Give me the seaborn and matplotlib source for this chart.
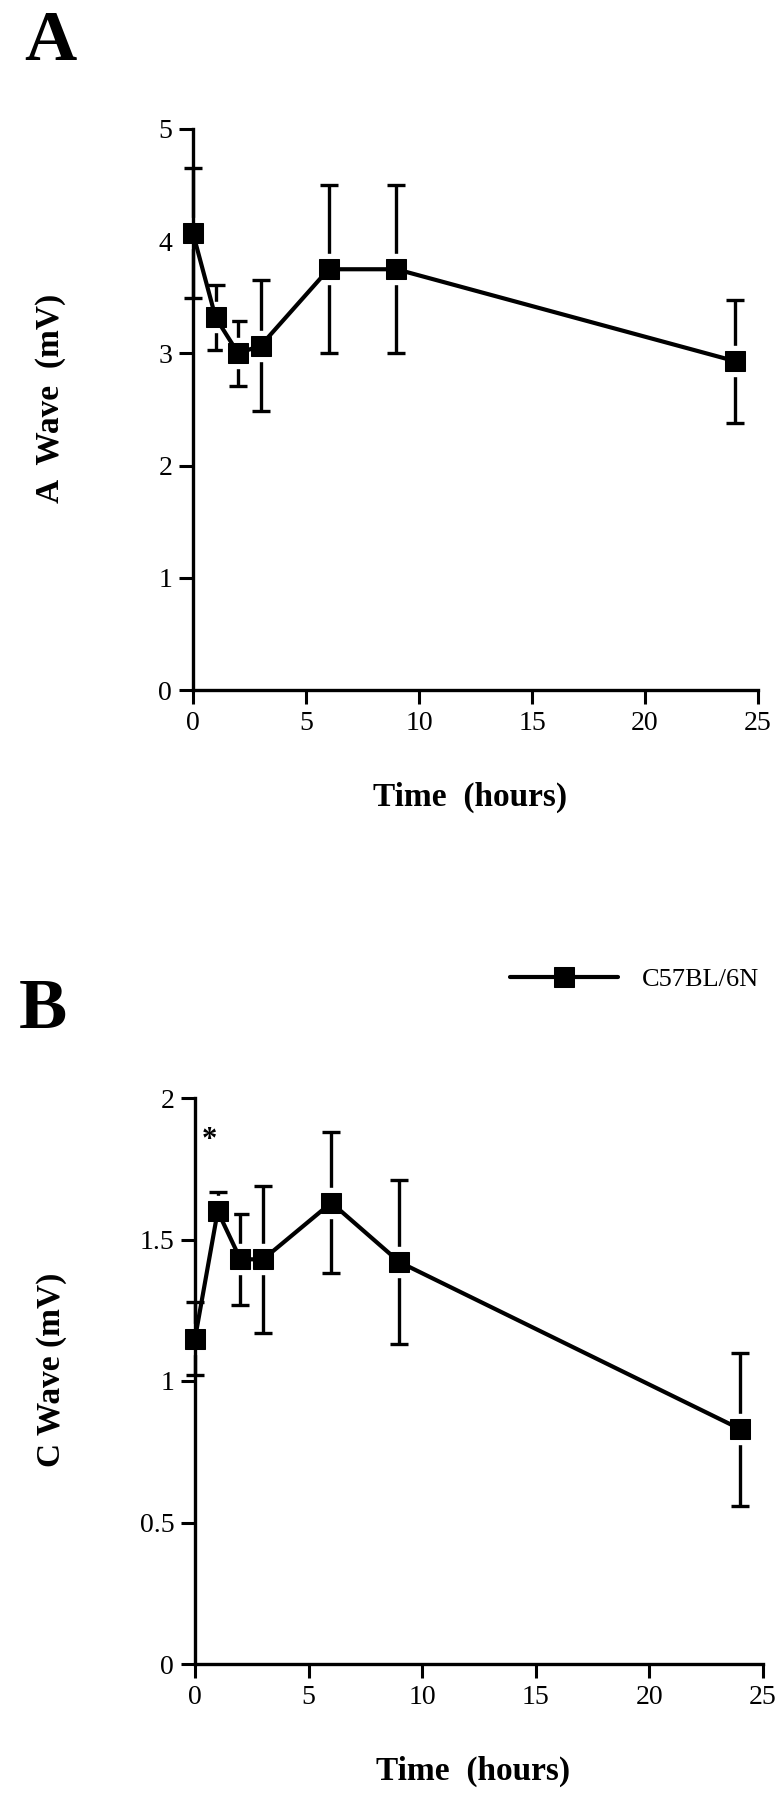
import numpy as np
import seaborn as sns
import matplotlib.pyplot as plt

sns.set_style("ticks")
plt.rcParams["font.family"] = ["Liberation Serif", "DejaVu Serif"]
for key in ["text.color", "axes.labelcolor", "xtick.color", "ytick.color", "axes.edgecolor"]:
    plt.rcParams[key] = "black"

# time points (hours)
hours = [0, 1, 2, 3, 6, 9, 24]

# panel A: a-wave amplitude (mV), mean and error
a_wave = [4.07, 3.32, 3.00, 3.07, 3.75, 3.75, 2.93]
a_err = [0.58, 0.29, 0.29, 0.58, 0.75, 0.75, 0.55]

# panel B: c-wave amplitude (mV), mean and error (lower cap at 1 h hidden by marker)
c_wave = [1.15, 1.60, 1.43, 1.43, 1.63, 1.42, 0.83]
c_err_hi = [0.13, 0.067, 0.16, 0.26, 0.25, 0.29, 0.27]
c_err_lo = [0.13, 0.04, 0.16, 0.26, 0.25, 0.29, 0.27]

strain = "C57BL/6N"

fig = plt.figure(figsize=(7.83, 18), dpi=100)
axA = fig.add_axes([193 / 783, 1 - 690 / 1800, 565 / 783, 561 / 1800])
axB = fig.add_axes([195 / 783, 1 - 1664 / 1800, 568 / 783, 566 / 1800])


def draw(ax, y, lo, hi, ymax, yticks, ylabels, ylabel, label=None):
    eb = ax.errorbar(hours, y, yerr=[lo, hi], fmt="none", ecolor="black",
                     elinewidth=2.4, capsize=6.5, capthick=2.4, zorder=1)
    for art in list(eb.lines[1]) + list(eb.lines[2]):
        art.set_clip_on(False)
    # white halo so error bars stop short of the squares
    ax.plot(hours, y, ls="none", marker="s", ms=21, color="white",
            zorder=2, clip_on=False)
    sns.lineplot(x=hours, y=y, ax=ax, color="black", linewidth=3,
                 marker="s", markersize=14, markeredgecolor="black",
                 label=label, zorder=3, clip_on=False)
    ax.set_xlim(0, 25)
    ax.set_ylim(0, ymax)
    ax.set_xticks([0, 5, 10, 15, 20, 25])
    ax.set_yticks(yticks)
    ax.set_yticklabels(ylabels)
    for s in ["top", "right"]:
        ax.spines[s].set_visible(False)
    for s in ["left", "bottom"]:
        ax.spines[s].set_linewidth(2.4)
    ax.tick_params(direction="out", length=10, width=2.2, labelsize=20, pad=5)
    ax.set_xlabel("Time  (hours)", fontsize=24, fontweight="bold")
    ax.set_ylabel(ylabel, fontsize=24, fontweight="bold")
    ax.xaxis.set_label_coords(0.49, -0.163)
    ax.yaxis.set_label_coords(-0.225, 0.52)


draw(axA, a_wave, a_err, a_err, 5, [0, 1, 2, 3, 4, 5],
     ["0", "1", "2", "3", "4", "5"], "A  Wave  (mV)")
draw(axB, c_wave, c_err_lo, c_err_hi, 2, [0, 0.5, 1, 1.5, 2],
     ["0", "0.5", "1", "1.5", "2"], "C Wave (mV)", label=strain)

axB.text(0.62, 1.85, "*", fontsize=22, fontweight="bold", ha="center", va="center")

handles, labels = axB.get_legend_handles_labels()
axB.get_legend().remove()
fig.legend(handles, labels, loc="center left", bbox_to_anchor=(510 / 783, 1 - 979 / 1800),
           frameon=False, fontsize=19, handlelength=4.1, handletextpad=0.9,
           borderpad=0, borderaxespad=0)

fig.text(50 / 783, 1 - 42 / 1800, "A", fontsize=52, fontweight="bold", ha="center", va="center")
fig.text(43 / 783, 1 - 1010 / 1800, "B", fontsize=52, fontweight="bold", ha="center", va="center")

fig.savefig("out.png", dpi=100)
